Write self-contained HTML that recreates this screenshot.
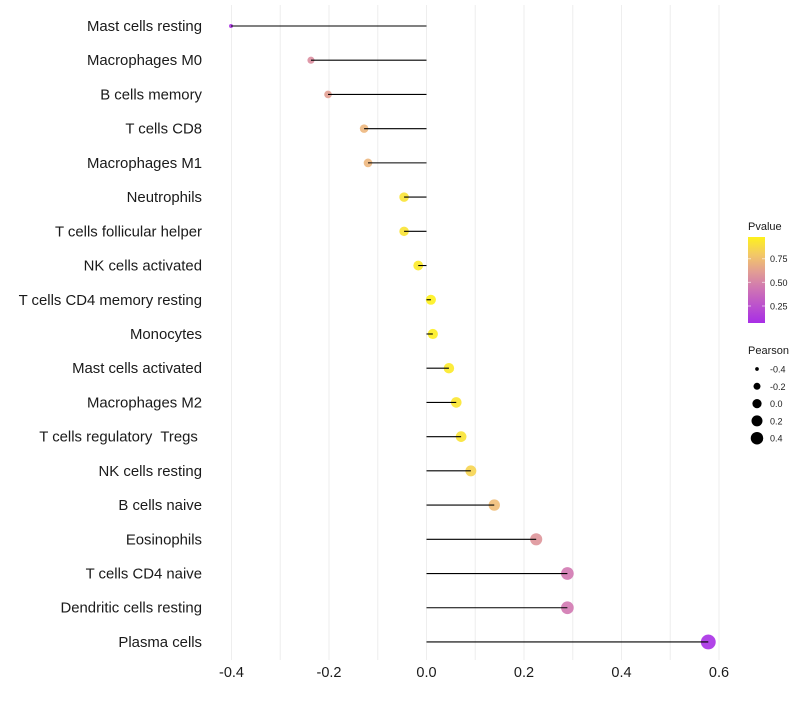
<!DOCTYPE html>
<html><head><meta charset="utf-8"><style>
body{margin:0;background:#fff;font-family:"Liberation Sans",sans-serif;}
svg text{font-family:"Liberation Sans",sans-serif;white-space:pre;}
</style></head><body>
<svg id="chart" width="800" height="700" xmlns="http://www.w3.org/2000/svg">
<g id="grid"></g>
<g id="ylabels"></g>
<g id="points"></g>
<g id="segs"></g>
<g id="xticks"></g>
<g id="legend"></g>
</svg>
<script>
const categories=["Mast cells resting","Macrophages M0","B cells memory","T cells CD8","Macrophages M1","Neutrophils","T cells follicular helper","NK cells activated","T cells CD4 memory resting","Monocytes","Mast cells activated","Macrophages M2","T cells regulatory  Tregs ","NK cells resting","B cells naive","Eosinophils","T cells CD4 naive","Dendritic cells resting","Plasma cells"];
const pearson=[-0.401,-0.237,-0.202,-0.128,-0.120,-0.046,-0.046,-0.017,0.009,0.013,0.046,0.061,0.071,0.091,0.139,0.225,0.289,0.289,0.578];
const pvalue=[0.1,0.55,0.62,0.72,0.72,0.92,0.92,0.95,0.98,0.97,0.95,0.93,0.92,0.85,0.75,0.58,0.45,0.45,0.08];
const xTicks=[-0.4,-0.2,0.0,0.2,0.4,0.6];
const legendPvals=[0.75,0.50,0.25];
const legendSizes=[-0.4,-0.2,0.0,0.2,0.4];
const NS="http://www.w3.org/2000/svg";
function mk(t,a,p){const e=document.createElementNS(NS,t);for(const k in a)e.setAttribute(k,a[k]);p.appendChild(e);return e;}
const x=v=>426.5+v*487.5;
const y=i=>26+i*34.22;
const r=v=>Math.sqrt(Math.max(2,25+52.5*v));
function col(p){
 const stops=[[0,[160,32,240]],[0.5,[214,130,170]],[0.75,[240,190,120]],[1,[255,245,20]]];
 for(let i=1;i<stops.length;i++){if(p<=stops[i][0]){const a=stops[i-1],b=stops[i];const t=(p-a[0])/(b[0]-a[0]);return "rgb("+a[1].map((c,j)=>Math.round(c+(b[1][j]-c)*t)).join(",")+")";}}
 return "rgb(255,245,20)";}
const grid=document.getElementById('grid');
for(let v=-0.4;v<=0.61;v+=0.1){const l=mk('line',{x1:x(v),x2:x(v),y1:5,y2:660,stroke:'#eeeeee','stroke-width':1},grid);

}
const yl=document.getElementById('ylabels'),pts=document.getElementById('points'),sg=document.getElementById('segs');
categories.forEach((c,i)=>{
 const t=mk('text',{x:202,y:y(i)+5,'text-anchor':'end','font-size':14.9,fill:'#1a1a1a'},yl);t.textContent=c;
 
 
 const ci=mk('circle',{cx:x(pearson[i]),cy:y(i),r:r(pearson[i]),fill:col(pvalue[i]),'fill-opacity':0.9},pts);
 
 
 const s=mk('line',{x1:x(0),x2:x(pearson[i]),y1:y(i),y2:y(i),stroke:'#000','stroke-width':1.1},sg);
 
 
});
const xt=document.getElementById('xticks');
xTicks.forEach(v=>{const t=mk('text',{x:x(v),y:677,'text-anchor':'middle','font-size':14.5,fill:'#1a1a1a'},xt);t.textContent=v.toFixed(1);

});
const lg=document.getElementById('legend');
let tt=mk('text',{x:748,y:230,'font-size':11,fill:'#1a1a1a'},lg);tt.textContent='Pvalue';


const defs=mk('defs',{},lg);const gr=mk('linearGradient',{id:'pg',x1:0,y1:1,x2:0,y2:0},defs);
[0,0.2,0.4,0.6,0.8,1].forEach(o=>{const p=0.07+o*(0.98-0.07);mk('stop',{offset:o,'stop-color':col(p)},gr);});
const bar=mk('rect',{x:748,y:237,width:17,height:86,fill:'url(#pg)'},lg);


const py=p=>323-(p-0.07)/(0.98-0.07)*86;
legendPvals.forEach(p=>{mk('line',{x1:748,x2:751,y1:py(p),y2:py(p),stroke:'#fff','stroke-opacity':0.6},lg);mk('line',{x1:762,x2:765,y1:py(p),y2:py(p),stroke:'#fff','stroke-opacity':0.6},lg);
const t=mk('text',{x:770,y:py(p)+3.5,'font-size':9,fill:'#1a1a1a'},lg);t.textContent=p.toFixed(2);

});
tt=mk('text',{x:748,y:354,'font-size':11,fill:'#1a1a1a'},lg);tt.textContent='Pearson';


legendSizes.forEach((v,i)=>{const cy=369+i*17.3;const c=mk('circle',{cx:757,cy:cy,r:r(v)*0.92,fill:'#000'},lg);


const t=mk('text',{x:770,y:cy+3.5,'font-size':9,fill:'#1a1a1a'},lg);t.textContent=v.toFixed(1);

});
</script>
</body></html>
